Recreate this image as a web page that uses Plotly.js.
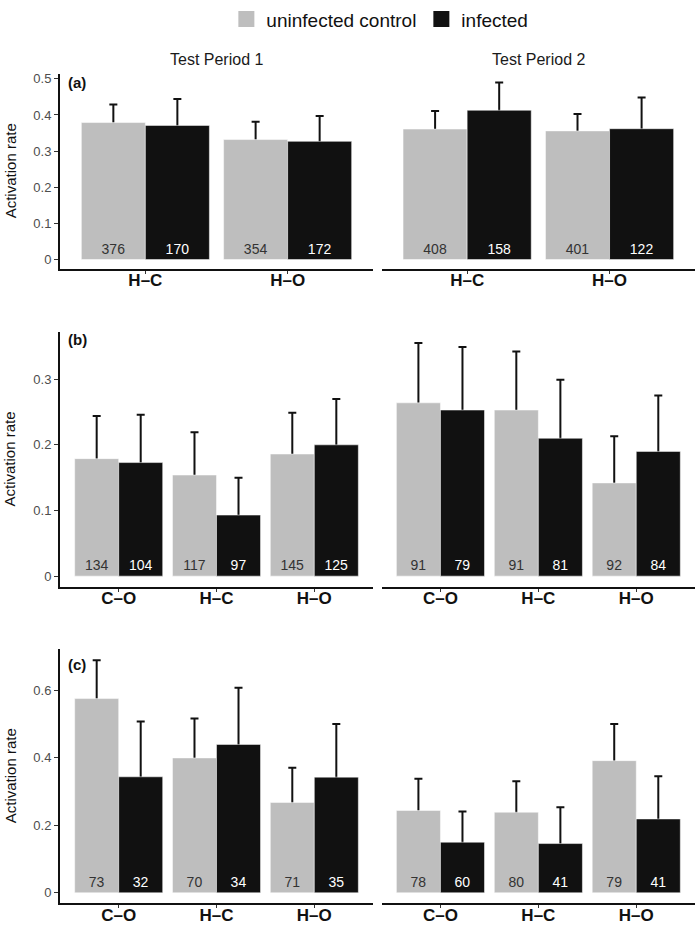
<!DOCTYPE html>
<html>
<head>
<meta charset="utf-8">
<script src="https://cdn.plot.ly/plotly-3.0.1.min.js"></script>
<style>
html,body{margin:0;padding:0;background:#fff;}
#chart{width:697px;height:925px;}
</style>
</head>
<body>
<div id="chart"></div>
<script>
// categories
const cats2 = ["H–C", "H–O"];
const cats3 = ["C–O", "H–C", "H–O"];
const periods = ["Test Period 1", "Test Period 2"];
const groups = ["uninfected control", "infected"];

// row (a) - means, upper error limits, sample sizes
const a1Ctrl = [0.379, 0.332], a1CtrlUp = [0.429, 0.381], a1CtrlN = [376, 354];
const a1Inf = [0.371, 0.327], a1InfUp = [0.444, 0.397], a1InfN = [170, 172];
const a2Ctrl = [0.361, 0.356], a2CtrlUp = [0.411, 0.403], a2CtrlN = [408, 401];
const a2Inf = [0.413, 0.362], a2InfUp = [0.490, 0.448], a2InfN = [158, 122];

// row (b)
const b1Ctrl = [0.179, 0.154, 0.186], b1CtrlUp = [0.244, 0.219, 0.249], b1CtrlN = [134, 117, 145];
const b1Inf = [0.173, 0.093, 0.200], b1InfUp = [0.246, 0.150, 0.270], b1InfN = [104, 97, 125];
const b2Ctrl = [0.264, 0.253, 0.142], b2CtrlUp = [0.355, 0.342, 0.213], b2CtrlN = [91, 91, 92];
const b2Inf = [0.253, 0.210, 0.190], b2InfUp = [0.349, 0.299, 0.275], b2InfN = [79, 81, 84];

// row (c)
const c1Ctrl = [0.576, 0.400, 0.268], c1CtrlUp = [0.690, 0.517, 0.371], c1CtrlN = [73, 70, 71];
const c1Inf = [0.344, 0.440, 0.343], c1InfUp = [0.508, 0.608, 0.501], c1InfN = [32, 34, 35];
const c2Ctrl = [0.244, 0.239, 0.392], c2CtrlUp = [0.338, 0.331, 0.501], c2CtrlN = [78, 80, 79];
const c2Inf = [0.150, 0.146, 0.219], c2InfUp = [0.241, 0.254, 0.346], c2InfN = [60, 41, 41];

const GREY = "#bebebe", BLACK = "#111111";
const FONT = "Liberation Sans, Arial, sans-serif";

// error bar drawn first (symmetric, lower half hidden by the bar drawn on top)
function errs(cats, vals, ups, isCtrl, xa, ya){
  return {
    type: "bar", x: cats, y: vals, xaxis: xa, yaxis: ya,
    offsetgroup: isCtrl ? "ctrl" : "inf",
    showlegend: false, hoverinfo: "skip",
    marker: {color: "rgba(0,0,0,0)"},
    error_y: {
      type: "data",
      array: ups.map((u, i) => u - vals[i]),
      color: "#111111", thickness: 2, width: 4
    }
  };
}

function bars(cats, vals, ns, isCtrl, xa, ya){
  return {
    type: "bar", x: cats, y: vals, xaxis: xa, yaxis: ya,
    offsetgroup: isCtrl ? "ctrl" : "inf",
    name: isCtrl ? groups[0] : groups[1],
    showlegend: false,
    marker: {color: isCtrl ? GREY : BLACK, line: {color: "#ffffff", width: 0.5}},
    text: ns.map(String),
    textposition: "inside",
    insidetextanchor: "start",
    textangle: 0,
    constraintext: "none",
    textfont: {family: FONT, size: 14, color: isCtrl ? "#333333" : "#ffffff"},
    hoverinfo: "x+y"
  };
}

function panel(cats, ctrl, ctrlUp, ctrlN, inf, infUp, infN, xa, ya){
  return [
    errs(cats, ctrl, ctrlUp, true, xa, ya),
    errs(cats, inf, infUp, false, xa, ya),
    bars(cats, ctrl, ctrlN, true, xa, ya),
    bars(cats, inf, infN, false, xa, ya)
  ];
}

let data = [].concat(
  panel(cats2, a1Ctrl, a1CtrlUp, a1CtrlN, a1Inf, a1InfUp, a1InfN, "x", "y"),
  panel(cats2, a2Ctrl, a2CtrlUp, a2CtrlN, a2Inf, a2InfUp, a2InfN, "x2", "y"),
  panel(cats3, b1Ctrl, b1CtrlUp, b1CtrlN, b1Inf, b1InfUp, b1InfN, "x3", "y2"),
  panel(cats3, b2Ctrl, b2CtrlUp, b2CtrlN, b2Inf, b2InfUp, b2InfN, "x4", "y2"),
  panel(cats3, c1Ctrl, c1CtrlUp, c1CtrlN, c1Inf, c1InfUp, c1InfN, "x5", "y3"),
  panel(cats3, c2Ctrl, c2CtrlUp, c2CtrlN, c2Inf, c2InfUp, c2InfN, "x6", "y3")
);

// legend keys
data.push({type: "scatter", mode: "markers", x: [null], y: [null], xaxis: "x", yaxis: "y",
  name: groups[0], marker: {symbol: "square", size: 16, color: GREY}, hoverinfo: "skip"});
data.push({type: "scatter", mode: "markers", x: [null], y: [null], xaxis: "x", yaxis: "y",
  name: groups[1], marker: {symbol: "square", size: 16, color: BLACK}, hoverinfo: "skip"});

const W = 697, H = 925;
const colL = [60 / W, 373 / W], colR = [381.7 / W, 695 / W];
const rowA = [1 - 266.7 / H, 1 - 71 / H];
const rowB = [1 - 586 / H, 1 - 330 / H];
const rowC = [1 - 903.3 / H, 1 - 648.3 / H];

function xAxis(domain, anchor, n){
  return {
    domain: domain, anchor: anchor, type: "category",
    range: [-0.6, n - 0.4], fixedrange: true,
    showline: true, linecolor: "#111111", linewidth: 2,
    ticks: "outside", ticklen: 3, tickwidth: 1, tickcolor: "#333333",
    ticklabelstandoff: -8,
    tickfont: {family: FONT, size: 17, color: "#111111", weight: "bold"},
    showgrid: false, zeroline: false
  };
}
function yAxis(domain, anchor, range, dtick){
  return {
    domain: domain, anchor: anchor, range: range, dtick: dtick, fixedrange: true,
    showline: true, linecolor: "#111111", linewidth: 2,
    ticks: "outside", ticklen: 4, tickwidth: 1, tickcolor: "#333333",
    tickfont: {family: FONT, size: 13, color: "#4d4d4d"},
    showgrid: false, zeroline: false
  };
}

const ann = [];
function txt(x, y, text, opts){
  ann.push(Object.assign({xref: "paper", yref: "paper", x: x, y: y, text: text, showarrow: false,
    xanchor: "center", yanchor: "middle",
    font: {family: FONT, size: 16, color: "#1a1a1a"}}, opts || {}));
}
txt((colL[0] + colL[1]) / 2, 1 - 57 / H, periods[0]);
txt((colR[0] + colR[1]) / 2, 1 - 57 / H, periods[1]);
const lab = {xanchor: "left", font: {family: FONT, size: 15, color: "#111111"}};
txt(66 / W, 1 - 80 / H, "<b>(a)</b>", lab);
txt(66 / W, 1 - 338 / H, "<b>(b)</b>", lab);
txt(66 / W, 1 - 664 / H, "<b>(c)</b>", lab);
[rowA, rowB, rowC].forEach(r => {
  txt(10 / W, (r[0] + r[1]) / 2, "Activation rate", {textangle: -90, font: {family: FONT, size: 15, color: "#111111"}});
});

const layout = {
  width: W, height: H,
  margin: {l: 0, r: 0, t: 0, b: 0},
  paper_bgcolor: "#ffffff", plot_bgcolor: "#ffffff",
  barmode: "group", bargap: 0.1, bargroupgap: 0,
  font: {family: FONT},
  showlegend: true,
  legend: {orientation: "h", x: 0.545, xanchor: "center", y: 1.003, yanchor: "top",
    font: {family: FONT, size: 19, color: "#111111"}, itemclick: false, itemdoubleclick: false,
    tracegroupgap: 0, itemwidth: 30},
  xaxis: xAxis(colL, "y", 2),
  xaxis2: xAxis(colR, "y", 2),
  xaxis3: xAxis(colL, "y2", 3),
  xaxis4: xAxis(colR, "y2", 3),
  xaxis5: xAxis(colL, "y3", 3),
  xaxis6: xAxis(colR, "y3", 3),
  yaxis: yAxis(rowA, "x", [-0.0257, 0.514], 0.1),
  yaxis2: yAxis(rowB, "x3", [-0.0167, 0.372], 0.1),
  yaxis3: yAxis(rowC, "x5", [-0.0314, 0.7225], 0.2),
  annotations: ann
};

Plotly.newPlot("chart", data, layout, {displayModeBar: false, staticPlot: true});
</script>
</body>
</html>
